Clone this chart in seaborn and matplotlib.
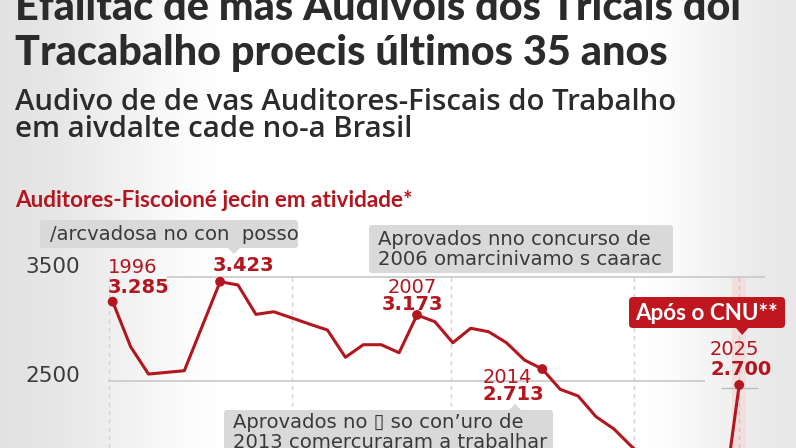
import numpy as np
import pandas as pd
import matplotlib
matplotlib.use("Agg")
import matplotlib.pyplot as plt
import matplotlib.transforms as mtransforms
from matplotlib.patches import FancyBboxPatch, Polygon
from matplotlib import font_manager
import seaborn as sns

# ---------------- data ----------------
years = list(range(1990, 2026))
auditores = [3260, 2827, 2564, 2580, 2596, 3024, 3452, 3420, 3138, 3163,
             3104, 3044, 2987, 2725, 2846, 2846, 2769, 3132, 3067, 2865,
             3004, 2971, 2865, 2699, 2612, 2417, 2353, 2154, 2036, 1865,
             1710, 1580, 1450, 1330, 1200, 2459]

highlight_years = [1990, 1996, 2007, 2014, 2025]
highlight_year_labels = ["1996", "", "2007", "2014", "2025"]
highlight_value_labels = ["3.285", "3.423", "3.173", "2.713", "2.700"]

ytick_values = [3500, 2500]
ytick_labels = ["3500", "2500"]

title_lines = ["Efalitac de mas Audivois dos Tricais dol",
               "Tracabalho proecis últimos 35 anos"]
subtitle_lines = ["Audivo de de vas Auditores-Fiscais do Trabalho",
                  "em aivdalte cade no-a Brasil"]
heading = "Auditores-Fiscoioné jecin em atividade*"
note1 = "/arcvadosa no con  posso"
note2 = ["Aprovados nno concurso de", "2006 omarcinivamo s caarac"]
note3 = ["Aprovados no \u25af so con\u2019uro de", "2013 comercuraram a trabalhar"]
cnu_label = "Após o CNU**"

# ---------------- style ----------------
sns.set_theme(style="white")

def pick(cands):
    names = {f.name for f in font_manager.fontManager.ttflist}
    for c in cands:
        if c in names:
            return c
    return "DejaVu Sans"

TITLE_FONT = pick(["Lato", "Roboto", "DejaVu Sans"])
SUB_FONT = pick(["Open Sans", "Noto Sans", "DejaVu Sans"])
HEAD_FONT = pick(["Lato", "Roboto", "DejaVu Sans"])
BODY_FONT = "DejaVu Sans"
plt.rcParams["font.family"] = [BODY_FONT]

RED = "#b3161e"
RED_BOX = "#bf161f"
DARK = "#2b2b2b"
GRID = "#c8c8c8"

W, H = 796, 448
fig = plt.figure(figsize=(W / 100, H / 100), dpi=100)
fig.patch.set_facecolor("white")

# pixel transform (x from left, y from top)
pxT = mtransforms.Affine2D().scale(1 / W, -1 / H).translate(0, 1) + fig.transFigure

# background gradient
bg = fig.add_axes([0, 0, 1, 1], zorder=-5)
xs = np.arange(W, dtype=float)
def smooth(t):
    t = np.clip(t, 0, 1)
    return t * t * (3 - 2 * t)
g = np.ones(W)
g -= 0.11 * (1 - smooth(xs / 240))
g -= 0.09 * smooth((xs - 630) / 166)
img = np.stack([g, g, g], axis=-1)[None, :, :].repeat(2, axis=0)
bg.imshow(img, aspect="auto", extent=[0, 1, 0, 1])
bg.axis("off")

# main axes covering full figure; mapping pixels <-> data
B = 17.9
X1990 = 112.7
def xd(px):
    return 1990 + (px - X1990) / B
def xp(year):
    return X1990 + (year - 1990) * B
def yd(py):
    return 2500 + (380.7 - py) * 1000 / 104

ax = fig.add_axes([0, 0, 1, 1], zorder=0)
ax.patch.set_alpha(0)

p2025 = xp(highlight_years[-1])

# grid lines
ax.hlines(ytick_values[0], xd(167), xd(765), color=GRID, lw=1.2, zorder=1)
ax.hlines(ytick_values[1], xd(108), xd(705), color=GRID, lw=1.2, zorder=1)
for px in [109, 292, 451, 634]:
    ax.vlines(xd(px), yd(H), ytick_values[0], color="#d2d2d2", lw=1.0,
              linestyles=(0, (3, 3)), zorder=1)
# highlight band for 2025
ax.fill_between([xd(p2025 - 7), xd(p2025 + 7)], yd(H), ytick_values[0],
                color="#f3dede", lw=0, zorder=0.5)
ax.vlines(xd(p2025), yd(H), ytick_values[0], color="#e2bcbc", lw=1.0,
          linestyles=(0, (3, 3)), zorder=0.6)
ax.hlines(yd(388), xd(p2025 - 18), xd(p2025 + 19), color="#bdbdbd", lw=1.0, zorder=1)

# series
df = pd.DataFrame({"ano": years, "auditores": auditores})
sns.lineplot(data=df, x="ano", y="auditores", ax=ax, color=RED, linewidth=2.2,
             zorder=5, legend=False)
hl = df[df["ano"].isin(highlight_years)]
sns.scatterplot(data=hl, x="ano", y="auditores", ax=ax, color=RED, s=50,
                edgecolor="none", zorder=6, legend=False)
ax.set_xlim(xd(0), xd(W))
ax.set_ylim(yd(H), yd(0))
ax.axis("off")

renderer = fig.canvas.get_renderer()
def fit(t, width):
    w = t.get_window_extent(renderer).width
    t.set_fontsize(t.get_fontsize() * width / w)
    return t.get_fontsize()

def ftext(x, y, s, **kw):
    return fig.text(x, y, s, transform=pxT, **kw)

# titles
t1 = ftext(15, 20, title_lines[0], fontsize=26, family=TITLE_FONT, weight="black",
           color=DARK, va="baseline")
t2 = ftext(15, 65, title_lines[1], fontsize=26, family=TITLE_FONT, weight="black",
           color=DARK, va="baseline")
fs = fit(t2, 652)
t1.set_fontsize(fs)
s1 = ftext(15, 110.5, subtitle_lines[0], fontsize=17, family=SUB_FONT, weight="semibold",
           color=DARK, va="baseline")
fs = fit(s1, 660)
s2 = ftext(15, 137, subtitle_lines[1], fontsize=fs, family=SUB_FONT, weight="semibold",
           color=DARK, va="baseline")
h = ftext(15, 207, heading, fontsize=14, family=HEAD_FONT, weight="bold",
          color=RED, va="baseline")
fit(h, 400)

# y labels
yl = ftext(80, 273, ytick_labels[0], fontsize=14, color="#3c3c3c", ha="right", va="baseline")
fs = fit(yl, 55)
ftext(80, 382, ytick_labels[1], fontsize=fs, color="#3c3c3c", ha="right", va="baseline")

# boxes
def box(x0, y0, x1, y1, color, rad=3, tri=None):
    p = FancyBboxPatch((x0, y0), x1 - x0, y1 - y0,
                       boxstyle=f"round,pad=0,rounding_size={rad}",
                       transform=pxT, facecolor=color, edgecolor="none", zorder=3)
    fig.add_artist(p)
    if tri is not None:
        xc, yb, yt = tri
        fig.add_artist(Polygon([(xc - 7, yb), (xc + 7, yb), (xc, yt)], closed=True,
                               transform=pxT, facecolor=color, edgecolor="none", zorder=3))

BOXC = "#d9d9d9"
TXT = "#3a3a3a"
box(40, 220, 298, 248, BOXC, tri=(234, 247, 254))
box(369, 225, 673, 273, BOXC)
box(224, 410, 553, 470, BOXC, tri=(515, 411, 404))
box(629, 297, 785, 328, RED_BOX, rad=4, tri=(p2025 + 3, 327, 335))

n2a = ftext(378, 245, note2[0], fontsize=13, color=TXT, va="baseline", zorder=4)
bfs = fit(n2a, 273)
ftext(378, 265, note2[1], fontsize=bfs, color=TXT, va="baseline", zorder=4)
ftext(50, 240, note1, fontsize=bfs, color=TXT, va="baseline", zorder=4)
ftext(233, 428, note3[0], fontsize=bfs, color=TXT, va="baseline", zorder=4)
ftext(233, 448, note3[1], fontsize=bfs, color=TXT, va="baseline", zorder=4)
c = ftext(635, 320, cnu_label, fontsize=15, family=HEAD_FONT, weight="bold",
          color="white", va="baseline", zorder=4)
fit(c, 143)

# point labels
YFS, VFS = 14, 14
label_pos = [  # (x, ha, year baseline, value baseline)
    (108, "left", 273, 293),
    (243.5, "center", None, 271),
    (412, "center", 293, 310),
    (483, "left", 383, 400),
    (710, "left", 355, 375),
]
for (x, ha, yb, vb), ylab, vlab in zip(label_pos, highlight_year_labels, highlight_value_labels):
    if ylab:
        ftext(x, yb, ylab, fontsize=YFS, color=RED, ha=ha, va="baseline", zorder=4)
    ftext(x, vb, vlab, fontsize=VFS, color=RED, weight="bold", ha=ha, va="baseline", zorder=4)

fig.savefig("out.png", dpi=100)
